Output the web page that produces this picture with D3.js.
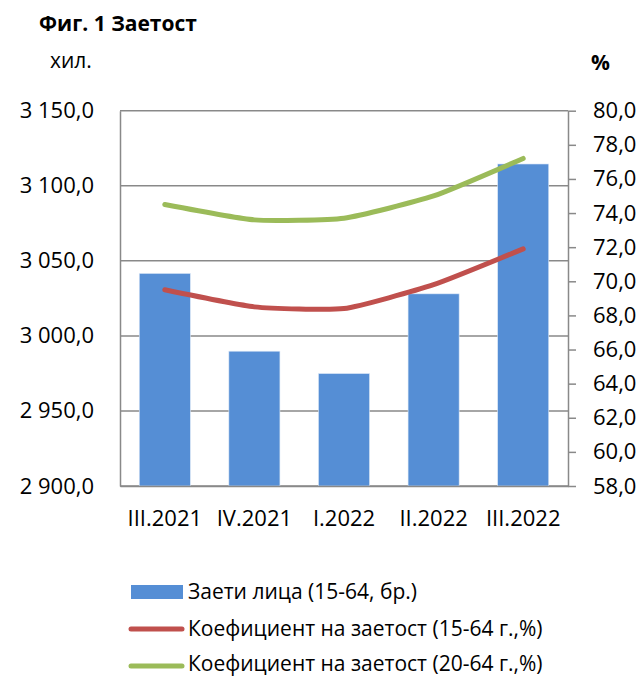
<!DOCTYPE html>
<html>
<head>
<meta charset="utf-8">
<script src="https://cdn.jsdelivr.net/npm/d3@7"></script>
<style>
  body { margin: 0; background: #fff; }
  text { font-family: "Open Sans", sans-serif; fill: #000; }
</style>
</head>
<body>
<div id="chart"></div>
<script>
const quarters = ["III.2021", "IV.2021", "I.2022", "II.2022", "III.2022"]
const employed = [3041.6, 2989.8, 2974.9, 3028.0, 3114.5]
const rate1564 = [69.5, 68.5, 68.4, 69.8, 71.9]
const rate2064 = [74.5, 73.6, 73.7, 75.0, 77.2]
const leftTicks = [2900, 2950, 3000, 3050, 3100, 3150]
const rightTicks = [58, 60, 62, 64, 66, 68, 70, 72, 74, 76, 78, 80]
const legendLabels = ["Заети лица (15-64, бр.)", "Коефициент на заетост (15-64 г.,%)", "Коефициент на заетост (20-64 г.,%)"]

const size = [642, 677]
const margin = ({top: 110.7, right: 74, bottom: 191, left: 120})
const colors = {bar: "#558ed5", red: "#c0504d", green: "#9bbb59", grid: "#898989"}

const fmt = v => {
  const s = d3.format(",.1f")(v)
  return s.replace(".", "#").replace(/,/g, " ").replace("#", ",")
}

const svg = d3.select("#chart").append("svg")
  .attr("width", size[0])
  .attr("height", size[1])

const x = d3.scaleBand()
  .domain(quarters)
  .range([margin.left, size[0] - margin.right])
  .paddingInner(0.43)
  .paddingOuter(0.215)

const yL = d3.scaleLinear()
  .domain([2900, 3150])
  .range([size[1] - margin.bottom, margin.top])

const yR = d3.scaleLinear()
  .domain([58, 80])
  .range([size[1] - margin.bottom, margin.top])

// title + units
svg.append("text")
  .attr("x", 39).attr("y", 31)
  .attr("font-size", 21).attr("font-weight", "bold")
  .text("Фиг. 1 Заетост")
svg.append("text")
  .attr("x", 50).attr("y", 68)
  .attr("font-size", 21)
  .text("хил.")
svg.append("text")
  .attr("x", 591).attr("y", 70)
  .attr("font-size", 21).attr("font-weight", "bold")
  .text("%")

// grid lines
svg.append("g")
  .selectAll("line")
  .data(leftTicks)
  .join("line")
    .attr("x1", margin.left)
    .attr("x2", size[0] - margin.right)
    .attr("y1", d => yL(d))
    .attr("y2", d => yL(d))
    .attr("stroke", colors.grid)
    .attr("stroke-width", 1.5)

// bars
svg.append("g")
  .selectAll("rect")
  .data(employed)
  .join("rect")
    .attr("x", (d, i) => x(quarters[i]))
    .attr("width", x.bandwidth())
    .attr("y", d => yL(d))
    .attr("height", d => yL(2900) - yL(d))
    .attr("fill", colors.bar)
    .attr("stroke", "#dce8f7")
    .attr("stroke-width", 0.6)

// left axis
const leftAxis = svg.append("g")
  .attr("transform", `translate(${margin.left},0)`)
  .call(d3.axisLeft(yL).tickValues(leftTicks).tickSize(0).tickPadding(26).tickFormat(fmt))
leftAxis.select(".domain").attr("stroke", colors.grid).attr("stroke-width", 1.5)
leftAxis.selectAll("text").attr("font-size", 22).attr("font-family", "Open Sans").attr("fill", "#000")

// right axis
const rightAxis = svg.append("g")
  .attr("transform", `translate(${size[0] - margin.right},0)`)
  .call(d3.axisRight(yR).tickValues(rightTicks).tickSize(8).tickPadding(17).tickSizeOuter(0).tickFormat(d => d3.format(".1f")(d).replace(".", ",")))
rightAxis.select(".domain").attr("stroke", colors.grid).attr("stroke-width", 1.5)
rightAxis.selectAll("line").attr("stroke", colors.grid).attr("stroke-width", 1.5)
rightAxis.selectAll("text").attr("font-size", 22).attr("font-family", "Open Sans").attr("fill", "#000")

// bottom axis
const bottomAxis = svg.append("g")
  .attr("transform", `translate(0,${yL(2900)})`)
  .call(d3.axisBottom(x).tickSize(0).tickPadding(24))
bottomAxis.select(".domain").attr("stroke", colors.grid).attr("stroke-width", 1.5)
bottomAxis.selectAll("text").attr("font-size", 22).attr("font-family", "Open Sans").attr("fill", "#000")

// lines
const line = d3.line()
  .x((d, i) => x(quarters[i]) + x.bandwidth() / 2)
  .y(d => yR(d))
  .curve(d3.curveCardinal.tension(0.5))

for (const [vals, col] of [[rate1564, colors.red], [rate2064, colors.green]]) {
  svg.append("path")
    .datum(vals)
    .attr("d", line)
    .attr("fill", "none")
    .attr("stroke", col)
    .attr("stroke-width", 5)
    .attr("stroke-linecap", "round")
    .attr("stroke-linejoin", "round")
}

// legend
const legend = svg.append("g")
legend.append("rect")
  .attr("x", 131).attr("y", 585)
  .attr("width", 52).attr("height", 14)
  .attr("fill", colors.bar)
legend.selectAll("line")
  .data([[629, colors.red], [666, colors.green]])
  .join("line")
    .attr("x1", 131).attr("x2", 182)
    .attr("y1", d => d[0]).attr("y2", d => d[0])
    .attr("stroke", d => d[1])
    .attr("stroke-width", 5)
    .attr("stroke-linecap", "round")
legend.selectAll("text")
  .data(legendLabels)
  .join("text")
    .attr("x", 188)
    .attr("y", (d, i) => [599, 636, 671][i])
    .attr("font-size", 21)
    .text(d => d)
</script>
</body>
</html>
